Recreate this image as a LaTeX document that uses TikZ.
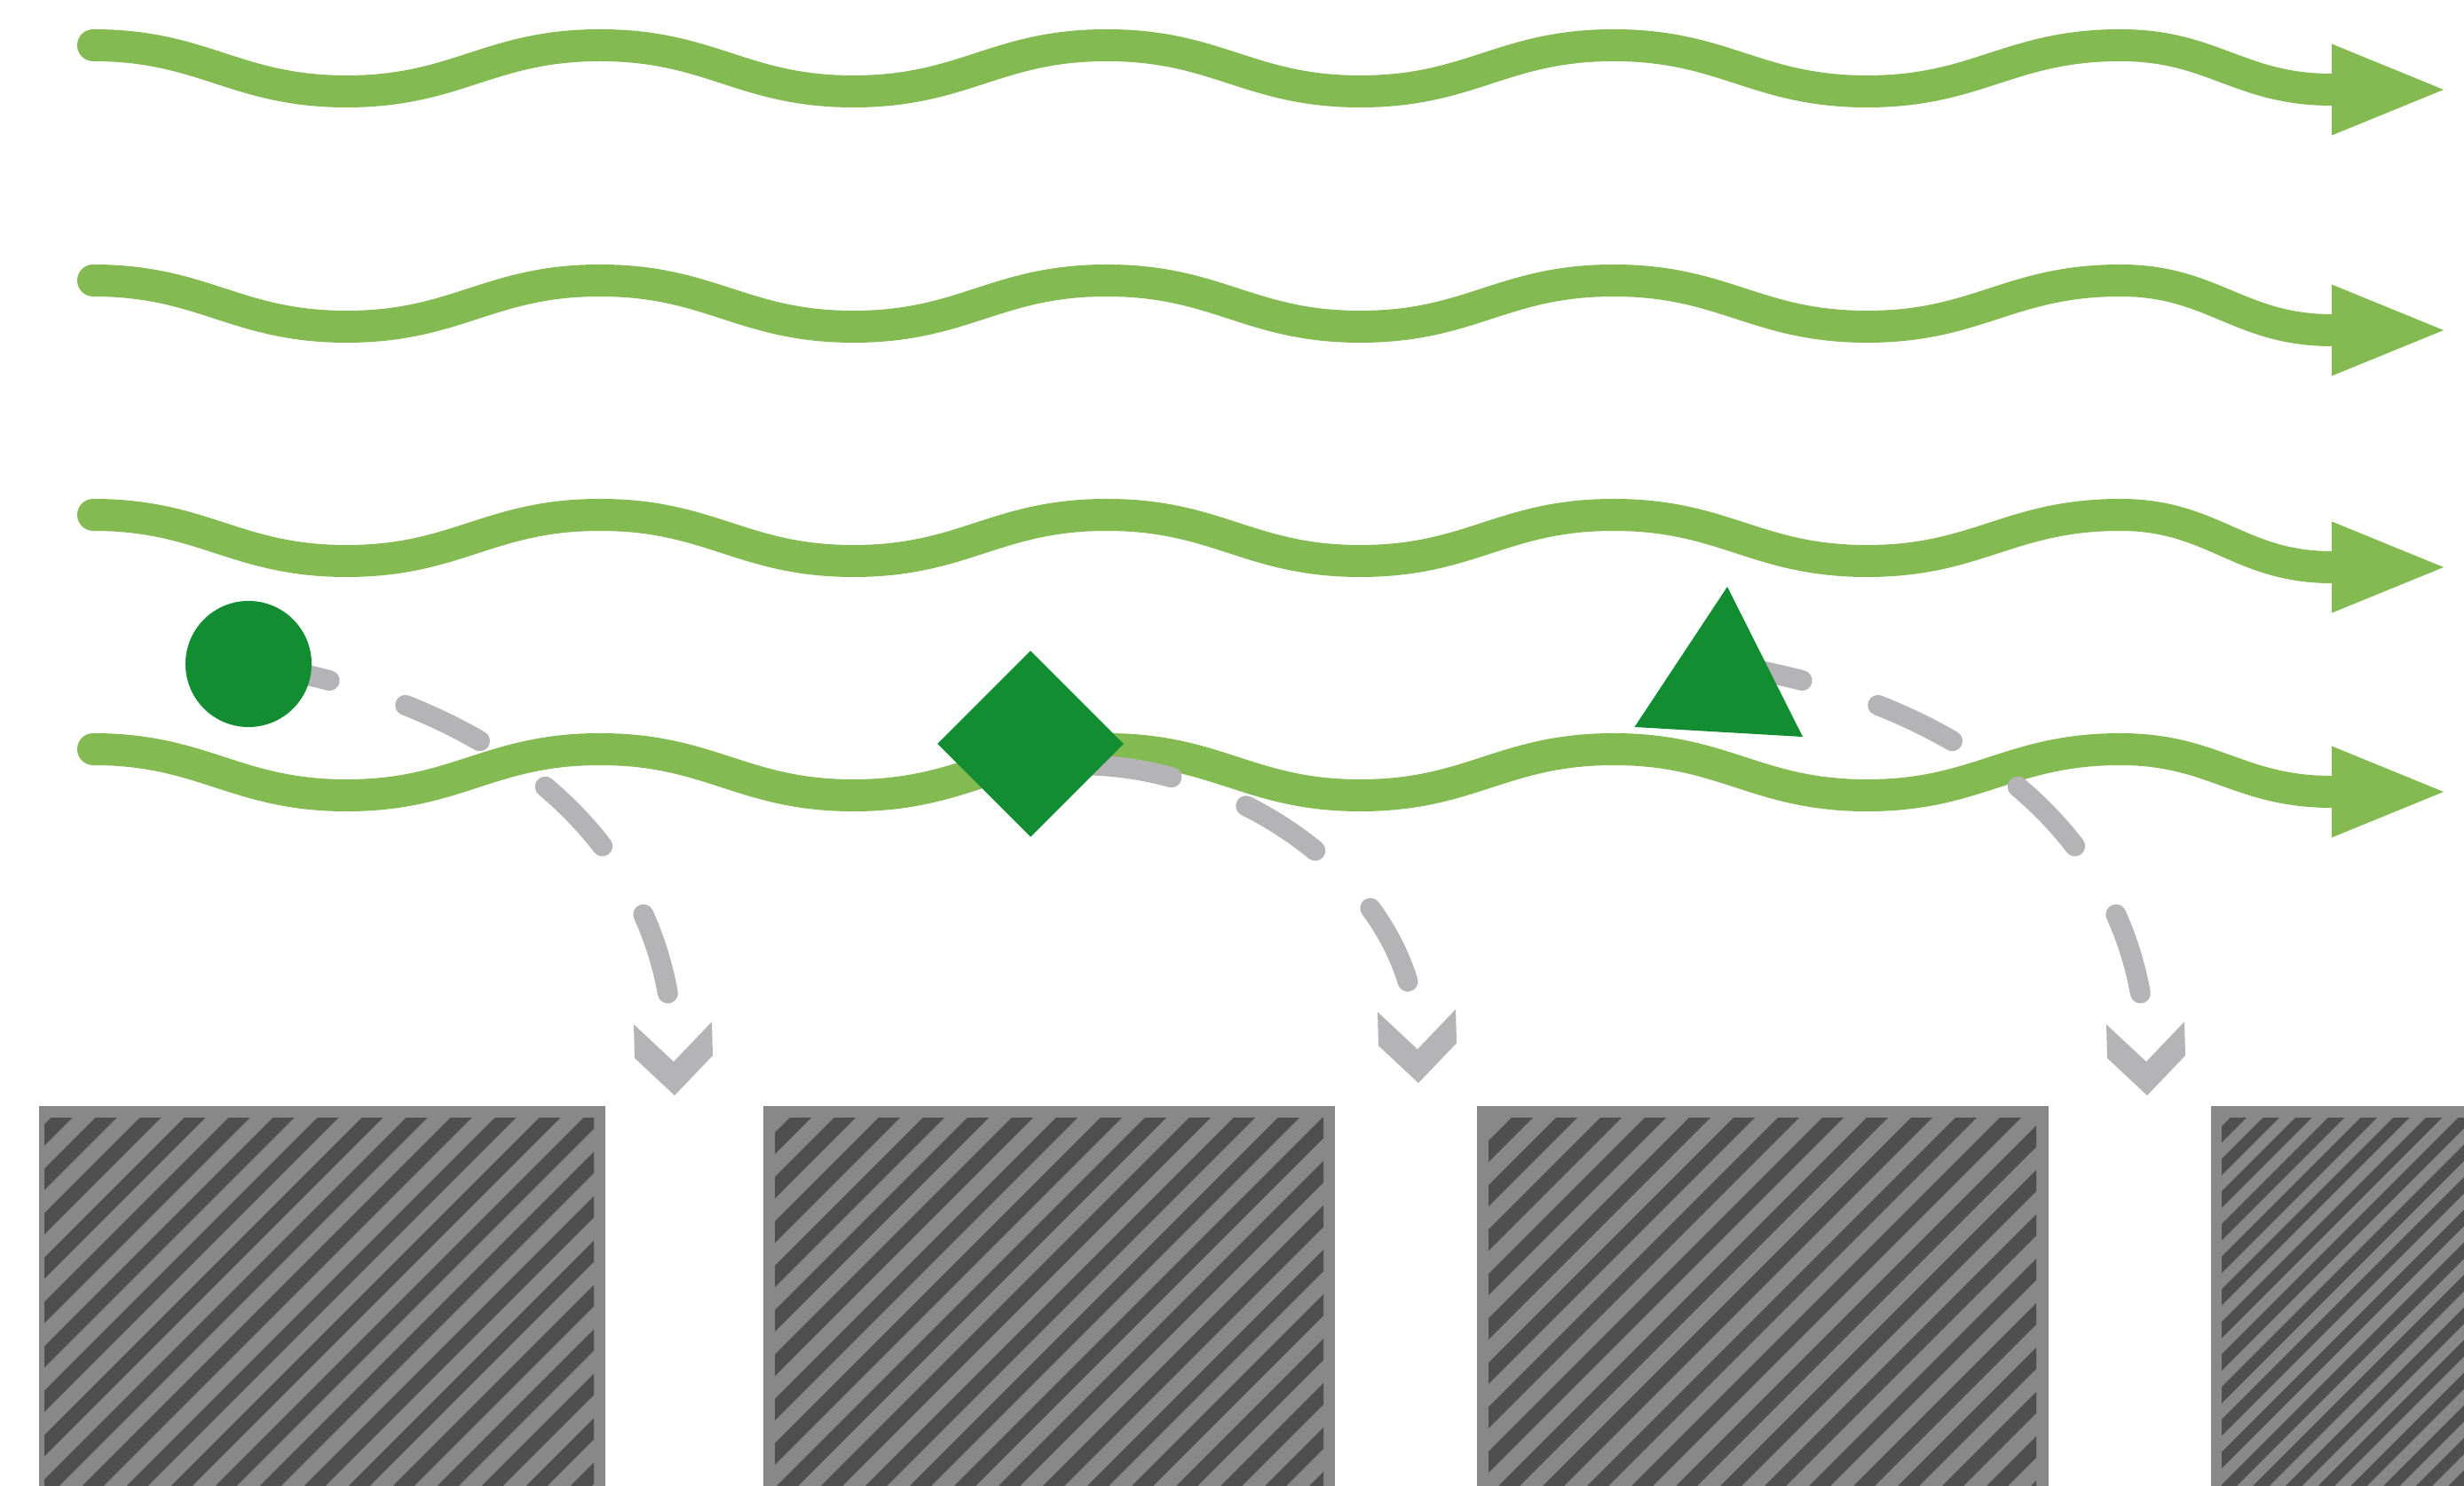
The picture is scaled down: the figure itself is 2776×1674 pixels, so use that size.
\documentclass[tikz,border=0pt]{standalone}
\usetikzlibrary{shapes.geometric}
\definecolor{wavegreen}{RGB}{132,186,82}
\definecolor{shapegreen}{RGB}{19,141,49}
\definecolor{dashgray}{RGB}{180,179,182}
\definecolor{boxgray}{RGB}{136,136,136}
\definecolor{stripegray}{RGB}{79,79,79}
\begin{document}
\begin{tikzpicture}[x=0.01cm,y=-0.01cm,
  wave/.style={wavegreen, line width=0.36cm, line cap=round},
  wavehead/.style={fill=wavegreen},
  flow/.style={dashgray, line width=0.23cm, line cap=round, dash pattern=on 0.93cm off 0.90cm},
  flowhead/.style={fill=dashgray},
  item/.style={fill=shapegreen, draw=none, inner sep=0pt},
  crate/.style={fill=boxgray},
  stripe/.style={stripegray}]
\clip (0,0) rectangle (2776,1674);

% wavy flow lines
\foreach \Y/\T in {51/101, 316/372, 580/639, 844/892} {
  \draw[wave] (105,\Y)
    \foreach \k in {0,...,3} {
      .. controls ({105+571*\k+125},\Y) and ({390.5+571*\k-125},{\Y+52}) .. ({390.5+571*\k},{\Y+52})
      .. controls ({390.5+571*\k+125},{\Y+52}) and ({676+571*\k-125},\Y) .. ({676+571*\k},\Y)
    }
    .. controls (2493,\Y) and (2523,\T) .. (2627,\T);
  \fill[wavehead] (2627,{\T-51.5}) -- (2753,\T) -- (2627,{\T+51.5}) -- cycle;
}

% hatched boxes
\foreach \oL/\oR/\iL/\iR/\cc/\per/\lw in {44/682/50/669/1328.6/50/0.17cm, 860/1504/873/1491/2161/50/0.17cm, 1664/2308/1677/2294/2974/50/0.17cm, 2491/2900/2503/2900/3781/36.7/0.13cm} {
  \fill[crate] (\oL,1246) rectangle (\oR,1700);
  \begin{scope}
    \clip (\iL,1259) rectangle (\iR,1700);
    \foreach \k in {-1,...,23} {
      \draw[stripe, line width=\lw] ({\cc+\k*\per-1200},1200) -- ({\cc+\k*\per-1760},1760);
    }
  \end{scope}
}

% start and end points of the dashed paths
\coordinate (s1) at (280,748);
\coordinate (e1) at (759,1196);
\coordinate (s2) at (1228,862);
\coordinate (e2) at (1597,1182);
\coordinate (s3) at (1939,748);
\coordinate (e3) at (2418,1196);

\draw[flow] (s1) .. controls (560,790) and (760,950) .. (e1);
\draw[flow] (s2) .. controls (1400,866) and (1600,1000) .. (e2);
\draw[flow] (s3) .. controls (2219,790) and (2419,950) .. (e3);

\foreach \n in {e1,e2,e3} {
  \begin{scope}[shift={(\n)}]
    \fill[flowhead] (-45,-42) -- (0,0) -- (43,-45) -- (44,-7) -- (1,38) -- (-44,-4) -- cycle;
  \end{scope}
}

% green items
\node[item, circle, minimum size=1.42cm] (ball) at (s1) {};
\node[item, diamond, minimum width=2.1cm, minimum height=2.1cm] (gem) at (1161,838) {};
\fill[shapegreen] (1946,661) -- (2031,830) -- (1841.5,819) -- cycle;
\end{tikzpicture}
\end{document}
